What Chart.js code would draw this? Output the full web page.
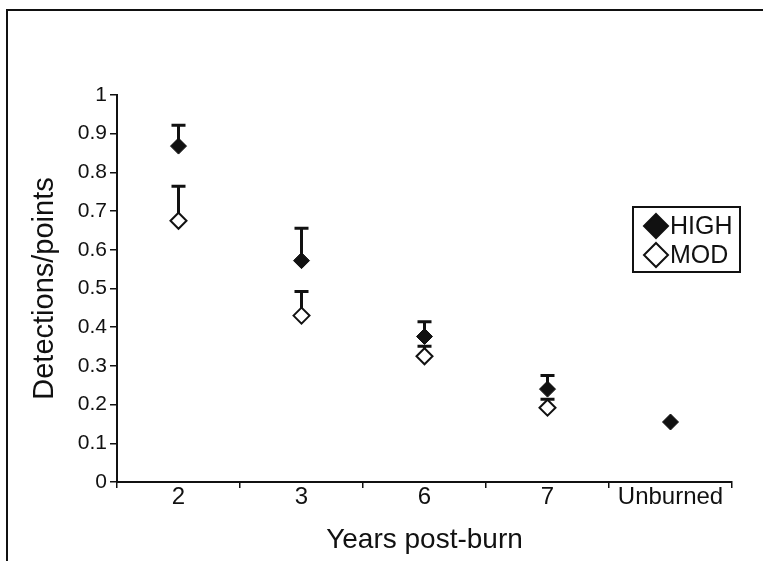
<!DOCTYPE html>
<html>
<head>
<meta charset="utf-8">
<script src="https://cdn.jsdelivr.net/npm/chart.js@4.4.0/dist/chart.umd.min.js"></script>
<style>
  html, body { margin: 0; padding: 0; background: #fff; }
  #wrap { position: relative; width: 763px; height: 561px; overflow: hidden; }
  #frame { position: absolute; left: 6px; top: 9px; width: 800px; height: 600px;
           border-left: 2px solid #111; border-top: 2px solid #111; }
  canvas { position: absolute; left: 0; top: 0; }
</style>
</head>
<body>
<div id="wrap">
  <div id="frame"></div>
  <canvas id="detChart" width="763" height="561"></canvas>
</div>
<script>
// Detections per point by years since burn
const years = ['2', '3', '6', '7', 'Unburned'];
const highVals = [0.868, 0.572, 0.376, 0.240, 0.155];
const highTops = [0.922, 0.656, 0.414, 0.275, null];
const modVals = [0.675, 0.430, 0.325, 0.192, null];
const modTops = [0.764, 0.492, 0.351, 0.214, null];

const FONT = "'Liberation Sans', Arial, sans-serif";

// one-sided error bars (upper only), drawn behind the markers
const errorBars = {
  id: 'errorBars',
  beforeDatasetsDraw(chart) {
    const ctx = chart.ctx;
    const y = chart.scales.y;
    const x = chart.scales.x;
    ctx.save();
    ctx.strokeStyle = '#111';
    ctx.lineWidth = 3;
    chart.data.datasets.forEach((ds) => {
      ds.data.forEach((v, i) => {
        const top = ds.errTop[i];
        if (v == null || top == null) return;
        const px = x.getPixelForValue(i);
        const py = y.getPixelForValue(v);
        const pt = y.getPixelForValue(top);
        ctx.beginPath();
        ctx.moveTo(px, py);
        ctx.lineTo(px, pt);
        ctx.moveTo(px - 7, pt);
        ctx.lineTo(px + 7, pt);
        ctx.stroke();
      });
    });
    ctx.restore();
  }
};

// boxed legend inside the plot
const boxLegend = {
  id: 'boxLegend',
  afterDraw(chart) {
    const ctx = chart.ctx;
    const bx = 633, by = 207, bw = 107, bh = 65;
    ctx.save();
    ctx.lineWidth = 2;
    ctx.strokeStyle = '#111';
    ctx.fillStyle = '#fff';
    ctx.fillRect(bx, by, bw, bh);
    ctx.strokeRect(bx, by, bw, bh);
    chart.data.datasets.forEach((ds, i) => {
      const cy = by + 19 + i * 29;
      ctx.fillStyle = ds.backgroundColor;
      ctx.strokeStyle = '#111';
      ctx.beginPath();
      ctx.moveTo(656, cy - 12); ctx.lineTo(668, cy); ctx.lineTo(656, cy + 12); ctx.lineTo(644, cy);
      ctx.closePath();
      ctx.fill();
      ctx.stroke();
      ctx.fillStyle = '#111';
      ctx.font = '25px ' + FONT;
      ctx.textBaseline = 'middle';
      ctx.textAlign = 'left';
      ctx.fillText(ds.label, 670, cy + 1);
    });
    ctx.restore();
  }
};

new Chart(document.getElementById('detChart'), {
  type: 'line',
  data: {
    labels: years,
    datasets: [
      {
        label: 'HIGH',
        data: highVals,
        errTop: highTops,
        showLine: false,
        pointStyle: 'rectRot',
        pointRadius: 8,
        pointHoverRadius: 8,
        backgroundColor: '#111',
        borderColor: '#111',
        pointBorderWidth: 1
      },
      {
        label: 'MOD',
        data: modVals,
        errTop: modTops,
        showLine: false,
        pointStyle: 'rectRot',
        pointRadius: 8,
        pointHoverRadius: 8,
        backgroundColor: '#fff',
        borderColor: '#111',
        pointBorderWidth: 2
      }
    ]
  },
  options: {
    responsive: false,
    animation: false,
    layout: { padding: { left: 0, top: 95, right: 31, bottom: 0 } },
    plugins: {
      legend: { display: false },
      tooltip: { enabled: false }
    },
    scales: {
      x: {
        offset: true,
        afterFit(s) { s.height = 79; },
        border: { display: true, color: '#111', width: 2 },
        grid: { offset: true, drawOnChartArea: false, drawTicks: true, tickLength: 6, color: '#111', lineWidth: 1.5 },
        ticks: { color: '#111', padding: -5, font: { family: FONT, size: 24 }, maxRotation: 0 },
        title: { display: true, text: 'Years post-burn', color: '#111',
                 font: { family: FONT, size: 28 }, padding: { top: 0, bottom: 4 } }
      },
      y: {
        min: 0,
        max: 1,
        afterFit(s) { s.width = 117; },
        border: { display: true, color: '#111', width: 2 },
        grid: { drawOnChartArea: false, drawTicks: true, tickLength: 7, color: '#111', lineWidth: 1.5 },
        ticks: { stepSize: 0.1, color: '#111', padding: 3, font: { family: FONT, size: 21 },
                 callback: (v) => String(+v.toFixed(1)) },
        title: { display: true, text: 'Detections/points', color: '#111',
                 font: { family: FONT, size: 29 }, padding: { top: 28, bottom: 0 } }
      }
    }
  },
  plugins: [errorBars, boxLegend]
});
</script>
</body>
</html>
